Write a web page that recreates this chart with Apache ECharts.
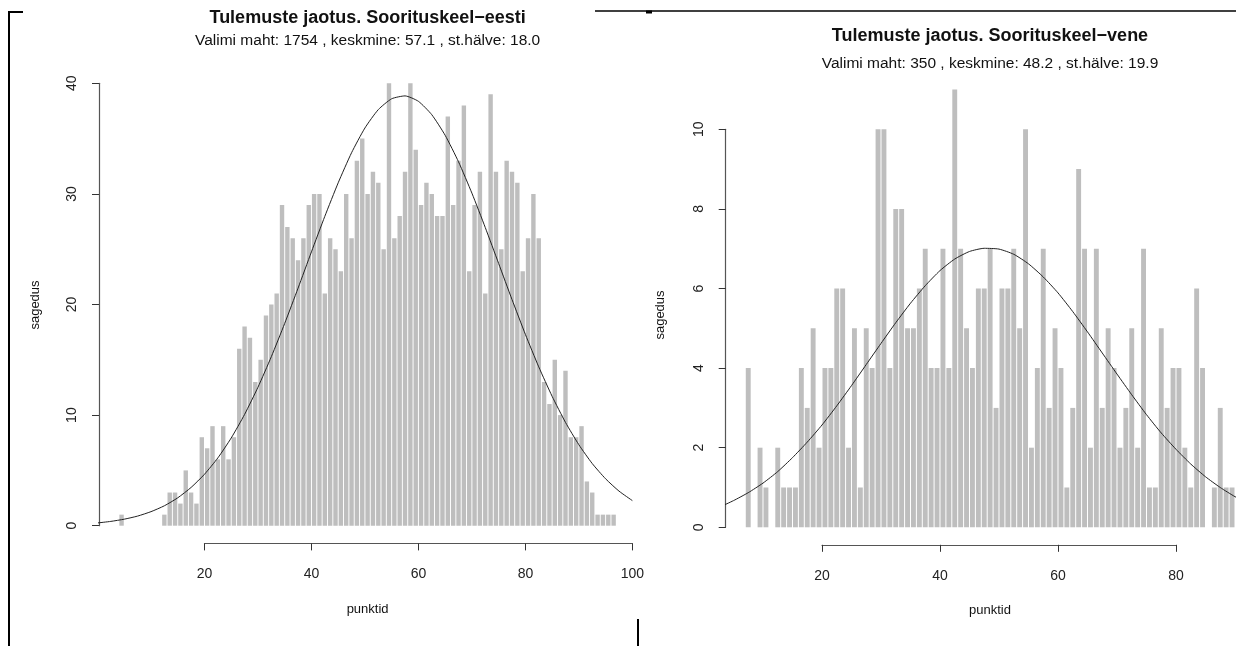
<!DOCTYPE html>
<html>
<head>
<meta charset="utf-8">
<title>Tulemuste jaotus</title>
<script src="https://cdn.jsdelivr.net/npm/echarts@6/dist/echarts.min.js"></script>
<style>
  html, body { margin: 0; padding: 0; background: #fff; }
  #chart { width: 1236px; height: 646px; }
</style>
</head>
<body>
<div id="chart"></div>
<script>
// histogramm: iga tulp on üks punkt (bin [k, k+1])
const leftBinStart = 4;
const leftCounts = [
  1, 0, 0, 0, 0, 0, 0, 0,
  1, 3, 3, 2, 5, 3, 2, 8, 7, 9, 6, 9, 6, 8, 16, 18, 17, 13, 15, 19, 20, 21,
  29, 27, 26, 24, 26, 29, 30, 30, 21, 26, 25, 23, 30, 26, 33, 35, 30, 32, 31, 25,
  40, 26, 28, 32, 40, 34, 29, 31, 30, 28, 28, 37, 29, 33,
  38, 23, 29, 32, 21, 39, 32, 25, 33, 32, 31, 23, 26, 30, 26, 13, 11, 15, 10, 14,
  8, 8, 9, 4, 3, 1, 1, 1, 1
];

const rightBinStart = 7;
const rightCounts = [
  4, 0, 2, 1, 0, 2, 1, 1, 1, 4, 3, 5, 2, 4, 4, 6, 6, 2, 5, 1,
  5, 4, 10, 10, 4, 8, 8, 5, 5, 6, 7, 4, 4, 7, 4, 11, 7, 5, 4, 6,
  6, 7, 3, 6, 6, 7, 5, 10, 2, 4, 7, 3, 5, 4, 1, 3, 9, 7, 2, 7,
  3, 5, 4, 2, 3, 5, 2, 7, 1, 1, 5, 3, 4, 4, 2, 1, 6, 4, 0, 1,
  3, 1, 1
];

// jaotuskõver, loetud pildilt (samm 2.5 punkti)
const leftCurveX = [0, 2.5, 5, 7.5, 10, 12.5, 15, 17.5, 20, 22.5, 25, 27.5, 30, 32.5, 35, 37.5, 40, 42.5, 45, 47.5,
  50, 52.5, 55, 57.5, 60, 62.5, 65, 67.5, 70, 72.5, 75, 77.5, 80, 82.5, 85, 87.5, 90, 92.5, 95, 97.5, 100];
const leftCurveY = [0.25, 0.39, 0.59, 0.87, 1.27, 1.80, 2.52, 3.46, 4.65, 6.13, 7.93, 10.06, 12.52, 15.28, 18.29, 21.48, 24.76, 27.97, 31.0, 33.72,
  35.96, 37.62, 38.6, 38.86, 38.37, 37.16, 35.3, 32.9, 30.07, 26.96, 23.71, 20.45, 17.3, 14.36, 11.7, 9.34, 7.32, 5.62, 4.24, 3.13, 2.27];

const rightCurveX = [0, 2.5, 5, 7.5, 10, 12.5, 15, 17.5, 20, 22.5, 25, 27.5, 30, 32.5, 35, 37.5, 40, 42.5, 45, 47.5,
  50, 52.5, 55, 57.5, 60, 62.5, 65, 67.5, 70, 72.5, 75, 77.5, 80, 82.5, 85, 87.5, 90, 92.5, 95];
const rightCurveY = [0.37, 0.50, 0.67, 0.87, 1.11, 1.40, 1.75, 2.14, 2.57, 3.05, 3.56, 4.09, 4.62, 5.14, 5.63, 6.07, 6.45, 6.74, 6.93, 7.01,
  6.99, 6.86, 6.62, 6.29, 5.89, 5.42, 4.91, 4.38, 3.85, 3.33, 2.83, 2.37, 1.96, 1.59, 1.27, 1.0, 0.77, 0.59, 0.44];

const leftTitle = "Tulemuste jaotus. Soorituskeel\u2212eesti";
const leftSub = "Valimi maht: 1754 , keskmine: 57.1 , st.hälve: 18.0";
const rightTitle = "Tulemuste jaotus. Soorituskeel\u2212vene";
const rightSub = "Valimi maht: 350 , keskmine: 48.2 , st.hälve: 19.9";

const FONT = '"Liberation Sans", Arial, Helvetica, sans-serif';

function bars(start, counts) {
  return counts.map((c, i) => [start + i + 0.5, c]);
}

function pairs(xs, ys) {
  return xs.map((x, i) => [x, ys[i]]);
}

function box(left, right, top, bottom) {
  return {
    left: left, top: top,
    width: right - left, height: bottom - top,
    containLabel: false, outerBoundsMode: 'none'
  };
}

const hidden = { show: false };

function hiddenAxis(min, max, idx) {
  return { type: 'value', gridIndex: idx, min: min, max: max, show: false };
}

function xTicks(min, max, idx) {
  return {
    type: 'value', gridIndex: idx, min: min, max: max, interval: 20,
    axisLine: { show: true, lineStyle: { color: '#555', width: 1.2 } },
    axisTick: { show: true, length: 7, lineStyle: { color: '#333', width: 1 } },
    axisLabel: { color: '#222', fontSize: 14, fontFamily: FONT, margin: 24 },
    splitLine: hidden
  };
}

function yTicks(min, max, step, idx) {
  return {
    type: 'value', gridIndex: idx, min: min, max: max, interval: step,
    axisLine: { show: true, lineStyle: { color: '#555', width: 1.2 } },
    axisTick: { show: true, length: 7, lineStyle: { color: '#333', width: 1 } },
    axisLabel: { color: '#222', fontSize: 14, fontFamily: FONT, margin: 20, rotate: 90 },
    splitLine: hidden
  };
}

function text(str, x, y, size, bold, rot) {
  return {
    type: 'text', x: x, y: y, rotation: rot || 0, silent: true,
    style: {
      text: str, x: 0, y: 0, fill: '#111',
      fontSize: size, fontWeight: bold ? 'bold' : 'normal', fontFamily: FONT,
      textAlign: 'center', textVerticalAlign: 'middle'
    }
  };
}

function line(x1, y1, x2, y2, w) {
  return {
    type: 'line', silent: true,
    shape: { x1: x1, y1: y1, x2: x2, y2: y2 },
    style: { stroke: '#000', lineWidth: w }
  };
}

const chart = echarts.init(document.getElementById('chart'));

chart.setOption({
  animation: false,
  backgroundColor: '#fff',
  grid: [
    box(99, 636.2, 65.6, 543.4),     // vasak andmeala
    box(204.5, 632.4, 65.6, 543.4),  // vasak x-telg 20..100
    box(99, 636.2, 83.3, 525.7),     // vasak y-telg 0..40
    box(725.7, 1236, 72, 544.8),     // parem andmeala
    box(822, 1176, 72, 544.8),       // parem x-telg 20..80
    box(725.7, 1236, 129.3, 527.3)   // parem y-telg 0..10
  ],
  xAxis: [
    hiddenAxis(0.28, 100.72, 0),
    xTicks(20, 100, 1),
    hiddenAxis(0, 1, 2),
    hiddenAxis(3.68, 90.17, 3),
    xTicks(20, 80, 4),
    hiddenAxis(0, 1, 5)
  ],
  yAxis: [
    hiddenAxis(-1.6, 41.6, 0),
    hiddenAxis(0, 1, 1),
    yTicks(0, 40, 10, 2),
    hiddenAxis(-0.44, 11.44, 3),
    hiddenAxis(0, 1, 4),
    yTicks(0, 10, 2, 5)
  ],
  series: [
    {
      type: 'bar', xAxisIndex: 0, yAxisIndex: 0,
      data: bars(leftBinStart, leftCounts),
      barWidth: 4.4,
      itemStyle: { color: '#bebebe' },
      silent: true
    },
    {
      type: 'line', xAxisIndex: 0, yAxisIndex: 0,
      data: pairs(leftCurveX, leftCurveY),
      smooth: 0.2, showSymbol: false, clip: true,
      lineStyle: { color: '#222', width: 1 },
      silent: true
    },
    {
      type: 'bar', xAxisIndex: 3, yAxisIndex: 3,
      data: bars(rightBinStart, rightCounts),
      barWidth: 4.9,
      itemStyle: { color: '#bebebe' },
      silent: true
    },
    {
      type: 'line', xAxisIndex: 3, yAxisIndex: 3,
      data: pairs(rightCurveX, rightCurveY),
      smooth: 0.2, showSymbol: false, clip: true,
      lineStyle: { color: '#222', width: 1 },
      silent: true
    }
  ],
  graphic: [
    text(leftTitle, 367.6, 18, 18, true),
    text(leftSub, 367.6, 41, 15.5, false),
    text(rightTitle, 990, 36, 18, true),
    text(rightSub, 990, 64, 15.5, false),
    text('punktid', 367.6, 609, 13, false),
    text('punktid', 990, 610, 13, false),
    text('sagedus', 35, 305, 13, false, Math.PI / 2),
    text('sagedus', 660, 315, 13, false, Math.PI / 2),
    // raamijooned
    line(9, 11, 9, 646, 2),
    line(9, 12, 23, 12, 2),
    line(595, 11, 1236, 11, 1.5),
    line(646, 12, 652, 12, 3),
    line(638, 619, 638, 646, 2)
  ]
});
</script>
</body>
</html>
